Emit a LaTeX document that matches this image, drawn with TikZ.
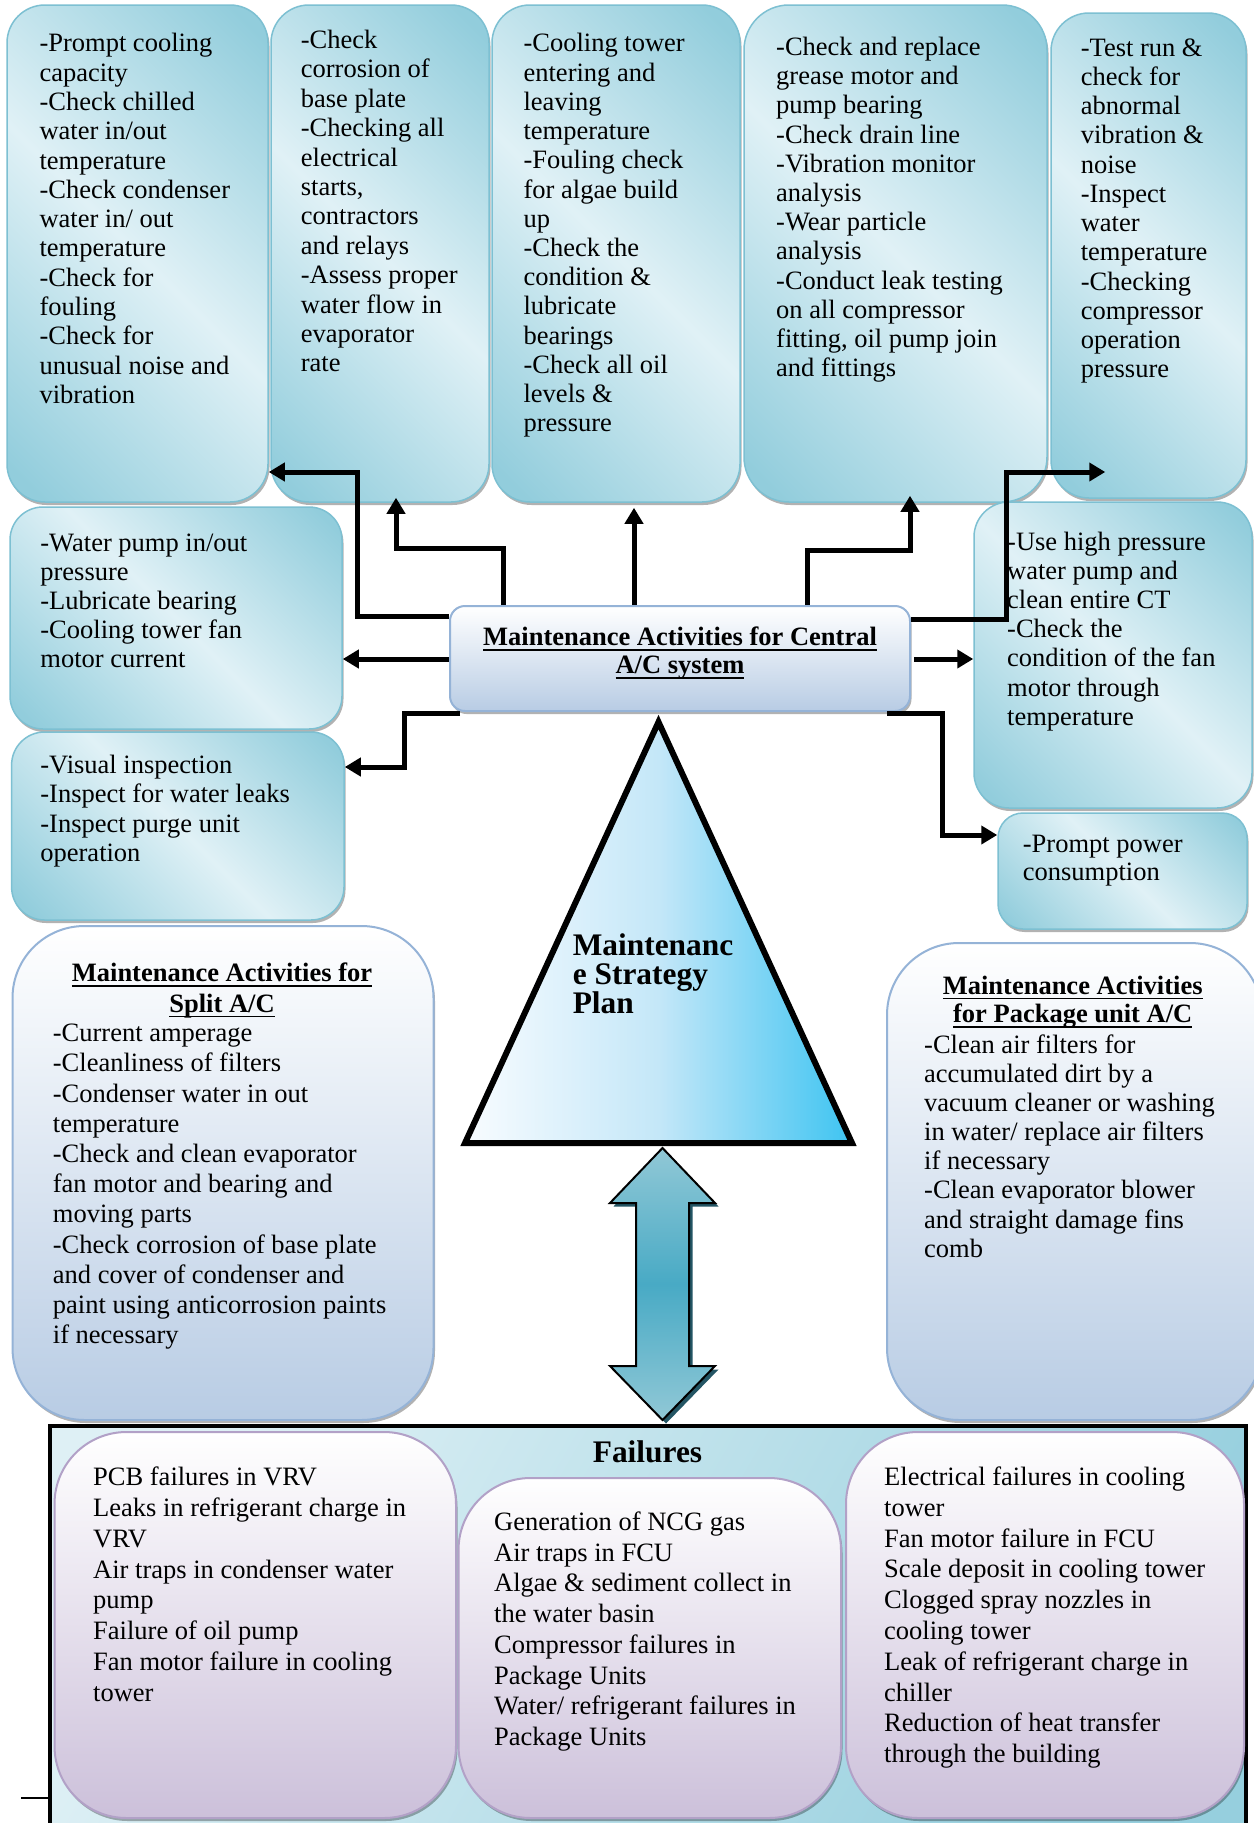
\documentclass[tikz,border=0pt]{standalone}
\usepackage{fontspec}
\setmainfont{Liberation Serif}
\usetikzlibrary{arrows.meta,shadows,calc}
\definecolor{tD}{RGB}{146,205,220}
\definecolor{tL}{RGB}{224,241,246}
\definecolor{tB}{RGB}{125,192,210}
\definecolor{sB}{RGB}{184,204,228}
\definecolor{sBr}{RGB}{149,179,215}
\definecolor{lav}{RGB}{204,192,218}
\definecolor{lavB}{RGB}{178,161,199}
\definecolor{triL}{RGB}{248,252,255}
\definecolor{triM}{RGB}{196,231,248}
\definecolor{triR}{RGB}{62,196,241}
\definecolor{aE}{RGB}{145,200,214}
\definecolor{aM}{RGB}{72,170,197}
\definecolor{aS}{RGB}{35,85,100}
\definecolor{fL}{RGB}{222,240,245}
\definecolor{fD}{RGB}{150,207,222}
\pgfdeclarehorizontalshading{tealdiag}{100bp}{color(0bp)=(tD); color(18bp)=(tD); color(50bp)=(tL); color(82bp)=(tD); color(100bp)=(tD)}
\pgfdeclarehorizontalshading{triang}{100bp}{color(0bp)=(triL); color(25bp)=(triL); color(50bp)=(triM); color(75bp)=(triR); color(100bp)=(triR)}
\pgfdeclareverticalshading{darr}{100bp}{color(0bp)=(aE); color(25bp)=(aE); color(50bp)=(aM); color(75bp)=(aE); color(100bp)=(aE)}
\pgfdeclarehorizontalshading{outershade}{100bp}{color(0bp)=(fL); color(25bp)=(fL); color(75bp)=(fD); color(100bp)=(fD)}
\newcommand\fs[1]{\fontsize{26.5}{#1}\selectfont}
\newcommand\ul[1]{\leavevmode\setbox0=\hbox{#1}\rlap{\rule[-5pt]{\wd0}{1.8pt}}\box0}
\newcommand\mkbox[6]{\node[#1, minimum width={(#5)-(#3)}, minimum height={(#6)-(#4)}] (#2) at ({((#3)+(#5))/2},{((#4)+(#6))/2}) {};}
\tikzset{
  myshadow/.style={drop shadow={shadow xshift=1.5pt,shadow yshift=-3pt,fill=black,opacity=.3}},
  topbox/.style={rectangle, rounded corners=#1, draw=tB, line width=1.5pt, shade, shading=tealdiag, shading angle=45, inner sep=0pt, myshadow},
  topbox/.default=38pt,
  cbox/.style={rectangle, rounded corners=15pt, draw=sBr, line width=2pt, top color=white, bottom color=sB, inner sep=0pt, myshadow},
  sbox/.style={rectangle, rounded corners=72pt, draw=sBr, line width=2pt, top color=white, bottom color=sB, inner sep=0pt, myshadow},
  fbox/.style={rectangle, rounded corners=72pt, draw=lavB, line width=2pt, top color=white, bottom color=lav, inner sep=0pt, myshadow},
  obox/.style={rectangle, draw=black, line width=3.5pt, shade, shading=outershade, shading angle=-30, inner sep=0pt},
  conn/.style={line width=5pt, -{Triangle[length=16pt,width=18pt]}},
  txt/.style={anchor=north west, inner sep=0pt, align=left, font=\fs{#1}},
  ttl/.style={anchor=north, inner sep=0pt, align=center, font=\fs{#1}\bfseries},
}
\begin{document}
\begin{tikzpicture}[x=1pt,y=-1pt]
\useasboundingbox (0,0) rectangle (1253,1823);
\fill[white] (0,0) rectangle (1253,1823);

% top row boxes
\mkbox{topbox}{box1}{7}{5}{268}{502}
\mkbox{topbox}{box2}{271}{5}{489}{502}
\mkbox{topbox}{box3}{492}{5}{740}{502}
\mkbox{topbox=45pt}{box4}{744}{5}{1047}{502}
\mkbox{topbox}{box5}{1051}{13}{1246}{498}
% side boxes
\mkbox{topbox=33pt}{water}{10}{507}{342}{729}
\mkbox{topbox=33pt}{visual}{11.6}{732}{344}{920}
\mkbox{cbox}{central}{450}{606}{910}{711}
\mkbox{topbox=35pt}{usehigh}{974}{502}{1252}{808}
\mkbox{topbox=25pt}{prompt}{998}{813}{1247}{929}
\mkbox{sbox}{split}{12.5}{926}{433.5}{1420}
\mkbox{sbox}{package}{887}{943}{1262}{1420}

% triangle
\shadedraw[shading=triang, line width=6pt, line join=miter] (658.5,722) -- (852,1143) -- (465,1143) -- cycle;

% double arrow
\begin{scope}[xshift=3.5pt,yshift=-3.5pt]
\fill[aS] (662.5,1148) -- (715,1203) -- (689,1203) -- (689,1366) -- (715,1366) -- (662.5,1420) -- (610,1366) -- (636,1366) -- (636,1203) -- (610,1203) -- cycle;
\end{scope}
\shadedraw[shading=darr, line width=2pt, line join=miter] (662.5,1148) -- (715,1203) -- (689,1203) -- (689,1366) -- (715,1366) -- (662.5,1420) -- (610,1366) -- (636,1366) -- (636,1203) -- (610,1203) -- cycle;

% failures area
\mkbox{obox}{failbox}{50}{1426}{1246}{1850}
\draw[line width=2pt] (failbox.west |- 0,1798) -- ++(-27,0);
\mkbox{fbox}{fb1}{54.5}{1432}{456}{1818}
\mkbox{fbox}{fb2}{458.5}{1478}{841}{1818}
\mkbox{fbox}{fb3}{846}{1432}{1244}{1818}

% texts
\node[txt=29.3] (t1) at (39.3,33.3) {-Prompt cooling\\capacity\\-Check chilled\\water in/out\\temperature\\-Check condenser\\water in/ out\\temperature\\-Check for\\fouling\\-Check for\\unusual noise and\\vibration};
\node[txt=29.4] (t2) at (300.7,30) {-Check\\corrosion of\\base plate\\-Checking all\\electrical\\starts,\\contractors\\and relays\\-Assess proper\\water flow in\\evaporator\\rate};
\node[txt=29.23] (t3) at (523.4,33.3) {-Cooling tower\\entering and\\leaving\\temperature\\-Fouling check\\for algae build\\up\\-Check the\\condition \&\\lubricate\\bearings\\-Check all oil\\levels \&\\pressure};
\node[txt=29.24] (t4) at (776,36.7) {-Check and replace\\grease motor and\\pump bearing\\-Check drain line\\-Vibration monitor\\analysis\\-Wear particle\\analysis\\-Conduct leak testing\\on all compressor\\fitting, oil pump join\\and fittings};
\node[txt=29.24] (t5) at (1080.6,38.3) {-Test run \&\\check for\\abnormal\\vibration \&\\noise\\-Inspect\\water\\temperature\\-Checking\\compressor\\operation\\pressure};
\node[txt=29.2] (tw) at (40.2,533.3) {-Water pump in/out\\pressure\\-Lubricate bearing\\-Cooling tower fan\\motor current};
\node[txt=29.4] (tv) at (40.2,755) {-Visual inspection\\-Inspect for water leaks\\-Inspect purge unit\\operation};
\node[ttl=28] (tc) at (680,627) {\ul{Maintenance Activities for Central}\\\ul{A/C system}};
\node[txt=29.17] (tu) at (1007,531.7) {-Use high pressure\\water pump and\\clean entire CT\\-Check the\\condition of the fan\\motor through\\temperature};
\node[txt=28.3] (tpp) at (1022.7,835) {-Prompt power\\consumption};
\node[ttl=30.6] (tst) at (222,963) {\ul{Maintenance Activities for}\\\ul{Split A/C}};
\node[txt=30.2] (ts) at (52.7,1024) {-Current amperage\\-Cleanliness of filters\\-Condenser water in out\\temperature\\-Check and clean evaporator\\fan motor and bearing and\\moving parts\\-Check corrosion of base plate\\and cover of condenser and\\paint using anticorrosion paints\\if necessary};
\node[ttl=28.3] (tpt) at (1072.7,975.7) {\ul{Maintenance Activities}\\\ul{for Package unit A/C}};
\node[txt=29.1] (tp) at (924,1034.6) {-Clean air filters for\\accumulated dirt by a\\vacuum cleaner or washing\\in water/ replace air filters\\if necessary\\-Clean evaporator blower\\and straight damage fins\\comb};
\node[anchor=north west, inner sep=0pt, align=left, font=\fontsize{31.4}{29.2}\selectfont\bfseries] (tt) at (572.6,933) {Maintenanc\\e Strategy\\Plan};
\node[anchor=center, inner sep=0pt, font=\fontsize{31.4}{32}\selectfont\bfseries] (ft) at (647.5,1451.7) {Failures};
\node[txt=30.85] (f1) at (93,1466.7) {PCB failures in VRV\\Leaks in refrigerant charge in\\VRV\\Air traps in condenser water\\pump\\Failure of oil pump\\Fan motor failure in cooling\\tower};
\node[txt=30.7] (f2) at (494,1511.7) {Generation of NCG gas\\Air traps in FCU\\Algae \& sediment collect in\\the water basin\\Compressor failures in\\Package Units\\Water/ refrigerant failures in\\Package Units};
\node[txt=30.8] (f3) at (884,1466.7) {Electrical failures in cooling\\tower\\Fan motor failure in FCU\\Scale deposit in cooling tower\\Clogged spray nozzles in\\cooling tower\\Leak of refrigerant charge in\\chiller\\Reduction of heat transfer\\through the building};

% connectors
\draw[conn] (central.west |- 0,616) -| (357,472) -- (box1.east |- 0,472);
\draw[conn] (central.north -| 503,0) |- (396,548) -- ($(box2.south -| 396,0)+(0,-5)$);
\draw[conn] (central.north -| 634,0) -- ($(box3.south -| 634,0)+(0,5)$);
\draw[conn] (central.north -| 807,0) |- (910,550) -- ($(box4.south -| 910,0)+(0,-7)$);
\draw[conn] (central.east |- 0,619.5) -| (1006.5,472) -- ($(box5.west |- 0,472)+(55,0)$);
\draw[conn] ($(central.east |- 0,659)+(3,0)$) -- (usehigh.west |- 0,659);
\draw[conn] (central.west |- 0,659) -- (water.east |- 0,659);
\draw[conn] ($(central.south -| 460,0)+(0,1)$) -| (404,767) -- (visual.east |- 0,767);
\draw[conn] ($(central.south -| 887,0)+(0,1)$) -| (942,835) -- (prompt.west |- 0,835);
\end{tikzpicture}
\end{document}
